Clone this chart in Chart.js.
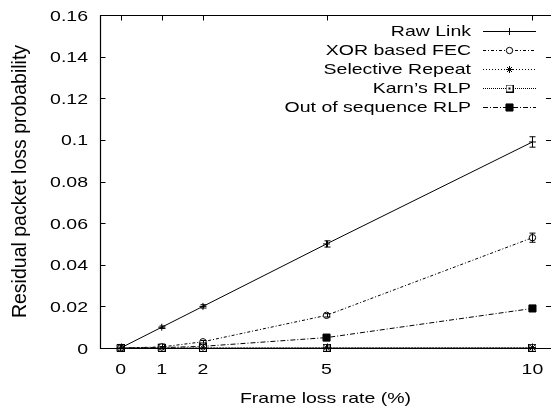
<!DOCTYPE html>
<html>
<head>
<meta charset="utf-8">
<script src="https://cdn.jsdelivr.net/npm/chart.js@4.4.1/dist/chart.umd.min.js"></script>
<style>
    html, body { margin: 0; padding: 0; background: #fff; }
    #wrap { width: 557px; height: 413px; }
</style>
</head>
<body>
<div id="wrap"><canvas id="lossChart"></canvas></div>
<script>
"use strict";

/* data */
var frameLossRate = [0, 1, 2, 5, 10];
var rawLink = [0, 0.01, 0.02, 0.05, 0.099];
var rawLinkErr = [0.0004, 0.0006, 0.0008, 0.0015, 0.0025];
var xorFec = [0, 0.0005, 0.003, 0.0157, 0.053];
var xorFecErr = [0, 0.0002, 0.0006, 0.0008, 0.0022];
var selectiveRepeat = [0, 0, 0.0001, 0.0001, 0.0002];
var karnRlp = [0, 0, 0, 0.0001, 0.0001];
var outOfSeqRlp = [0, 0.0002, 0.0008, 0.005, 0.019];

var xTicks = [0, 1, 2, 5, 10];
var xTickLabels = ['0', '1', '2', '5', '10'];
var yTicks = [0, 0.02, 0.04, 0.06, 0.08, 0.1, 0.12, 0.14, 0.16];
var yTickLabels = ['0', '0.02', '0.04', '0.06', '0.08', '0.1', '0.12', '0.14', '0.16'];

var FONT = '"Liberation Sans", Arial, sans-serif';
var SX = 1.3; // the figure's text is wider than it is tall

function toPoints(ys) {
    return frameLossRate.map(function (x, i) { return { x: x, y: ys[i] }; });
}

/* square with a dot, for Karn's RLP */
function karnMarker() {
    var c = document.createElement('canvas');
    c.width = 8; c.height = 8;
    var g = c.getContext('2d');
    g.fillStyle = '#fff';
    g.fillRect(0, 0, 8, 8);
    g.strokeStyle = '#000';
    g.lineWidth = 1;
    g.strokeRect(0.5, 0.5, 7, 7);
    g.fillStyle = '#000';
    g.fillRect(3, 3, 2, 2);
    return c;
}

function wideText(ctx, text, x, y, align) {
    ctx.save();
    ctx.translate(x, y);
    ctx.scale(SX, 1);
    ctx.textAlign = align;
    ctx.textBaseline = 'alphabetic';
    ctx.fillText(text, 0, 0);
    ctx.restore();
}

function series(label, ys, dash, style, radius, fill, errs) {
    return {
        label: label,
        data: toPoints(ys),
        borderColor: '#000',
        borderWidth: 1,
        borderDash: dash,
        backgroundColor: fill,
        pointStyle: style,
        pointRadius: radius,
        pointBorderWidth: 1,
        pointBorderColor: '#000',
        pointBackgroundColor: fill,
        fill: false,
        tension: 0,
        clip: false,
        errors: errs
    };
}

var gnuplotFrame = {
    id: 'gnuplotFrame',
    afterDatasetsDraw: function (chart) {
        var ctx = chart.ctx;
        var a = chart.chartArea;
        var xs = chart.scales.x, ys = chart.scales.y;

        // error bars
        chart.data.datasets.forEach(function (ds) {
            if (!ds.errors) return;
            ctx.save();
            ctx.strokeStyle = '#000';
            ctx.lineWidth = 1;
            ds.data.forEach(function (p, i) {
                var e = ds.errors[i];
                if (!e) return;
                var px = Math.round(xs.getPixelForValue(p.x)) + 0.5;
                var y1 = ys.getPixelForValue(p.y - e);
                var y2 = ys.getPixelForValue(p.y + e);
                ctx.beginPath();
                ctx.moveTo(px, y1); ctx.lineTo(px, y2);
                ctx.moveTo(px - 3, y1); ctx.lineTo(px + 3, y1);
                ctx.moveTo(px - 3, y2); ctx.lineTo(px + 3, y2);
                ctx.stroke();
            });
            ctx.restore();
        });

        ctx.save();
        ctx.strokeStyle = '#000';
        ctx.lineWidth = 1.2;
        ctx.setLineDash([]);
        var L = Math.round(a.left) + 0.5, T = Math.round(a.top) + 0.5;
        var B = Math.round(a.bottom) + 0.5, R = a.right;
        ctx.beginPath();
        ctx.moveTo(R, T); ctx.lineTo(L, T); ctx.lineTo(L, B); ctx.lineTo(R, B);
        ctx.stroke();

        // inward ticks on all sides
        ctx.lineWidth = 1;
        ctx.beginPath();
        yTicks.forEach(function (v) {
            var py = Math.round(ys.getPixelForValue(v)) + 0.5;
            ctx.moveTo(L, py); ctx.lineTo(L + 5, py);
            ctx.moveTo(R, py); ctx.lineTo(R - 5, py);
        });
        xTicks.forEach(function (v) {
            var px = Math.round(xs.getPixelForValue(v)) + 0.5;
            ctx.moveTo(px, B); ctx.lineTo(px, B - 5);
            ctx.moveTo(px, T); ctx.lineTo(px, T + 5);
        });
        ctx.stroke();

        // tick labels
        ctx.fillStyle = '#000';
        ctx.font = '15px ' + FONT;
        yTicks.forEach(function (v, i) {
            wideText(ctx, yTickLabels[i], 88, ys.getPixelForValue(v) + 5.5, 'right');
        });
        xTicks.forEach(function (v, i) {
            wideText(ctx, xTickLabels[i], xs.getPixelForValue(v), 374, 'center');
        });

        // axis titles
        wideText(ctx, 'Frame loss rate (%)', (a.left + a.right) / 2, 403, 'center');
        ctx.save();
        ctx.font = '19.5px ' + FONT;
        ctx.translate(25.5, (a.top + a.bottom) / 2);
        ctx.rotate(-Math.PI / 2);
        ctx.textAlign = 'center';
        ctx.fillText('Residual packet loss probability', 0, 0);
        ctx.restore();

        // legend: text right aligned, sample to the right
        chart.data.datasets.forEach(function (ds, i) {
            var base = 36 + i * 19;
            var my = base - 5.5;
            ctx.fillStyle = '#000';
            ctx.font = '15px ' + FONT;
            wideText(ctx, ds.label, 471, base, 'right');
            ctx.beginPath();
            ctx.setLineDash(ds.borderDash);
            ctx.lineWidth = 1;
            ctx.moveTo(483, Math.round(my) + 0.5);
            ctx.lineTo(536, Math.round(my) + 0.5);
            ctx.stroke();
            ctx.setLineDash([]);
            ctx.fillStyle = ds.pointBackgroundColor;
            Chart.helpers.drawPoint(ctx, {
                pointStyle: ds.pointStyle,
                radius: ds.pointRadius,
                borderWidth: 1,
                rotation: 0
            }, 509.5, Math.round(my) + 0.5);
        });
        ctx.restore();
    }
};

new Chart(document.getElementById('lossChart').getContext('2d'), {
    type: 'line',
    data: {
        datasets: [
            series('Raw Link', rawLink, [], 'cross', 3.5, '#000', rawLinkErr),
            series('XOR based FEC', xorFec, [3, 2, 1, 2], 'circle', 3.2, '#fff', xorFecErr),
            series('Selective Repeat', selectiveRepeat, [1, 2], 'star', 3.5, '#000', null),
            series('Karn\u2019s RLP', karnRlp, [1, 1], karnMarker(), 4, '#fff', null),
            series('Out of sequence RLP', outOfSeqRlp, [5, 2, 1, 2], 'rect', 5, '#000', null)
        ]
    },
    options: {
        animation: false,
        responsive: true,
        maintainAspectRatio: false,
        layout: {
            padding: { left: 100, top: 15, right: 0, bottom: 65 }
        },
        plugins: {
            legend: { display: false },
            tooltip: { enabled: false }
        },
        scales: {
            x: { type: 'linear', min: -0.5, max: 10.45, display: false },
            y: { type: 'linear', min: 0, max: 0.16, display: false }
        }
    },
    plugins: [gnuplotFrame]
});
</script>
</body>
</html>
